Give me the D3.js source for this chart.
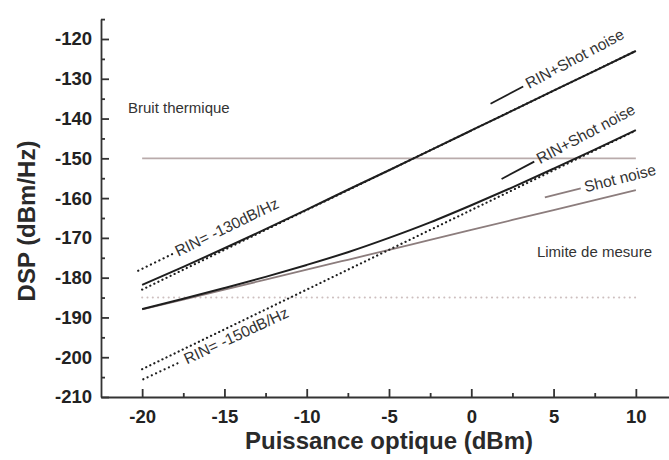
<!DOCTYPE html>
<html>
<head>
<meta charset="utf-8">
<script src="https://cdn.jsdelivr.net/npm/d3@7"></script>
<style>
  body { margin: 0; background: #fff; }
  svg { display: block; font-family: "Liberation Sans", Arial, Helvetica, sans-serif; }
</style>
</head>
<body>
<div id="chart"></div>
<script>
// data (dBm -> dBm/Hz)
const power = [-20, -17.5, -15, -12.5, -10, -7.5, -5, -2.5, 0, 2.5, 5, 7.5, 10];
const rin130 = [-183, -178, -173, -168, -163, -158, -153, -148, -143, -138, -133, -128, -123];
const rin150 = [-203, -198, -193, -188, -183, -178, -173, -168, -163, -158, -153, -148, -143];
const shotNoise = [-188, -185.5, -183, -180.5, -178, -175.5, -173, -170.5, -168, -165.5, -163, -160.5, -158];
const total130 = [-181.8, -177.3, -172.6, -167.8, -162.9, -157.9, -153.0, -148.0, -143.0, -138.0, -133.0, -128.0, -123.0];
const total150 = [-187.9, -185.3, -182.6, -179.8, -176.8, -173.6, -170.0, -166.1, -161.8, -157.3, -152.6, -147.8, -142.9];
const thermalLevel = [-150];
const limitLevel = [-185];
const xTicks = [-20, -15, -10, -5, 0, 5, 10];
const yTicks = [-210, -200, -190, -180, -170, -160, -150, -140, -130, -120];

let width = 669, height = 460;

let svg = d3.select('#chart')
    .append('svg')
    .attr('width', width)
    .attr('height', height);

let x = d3.scaleLinear().domain([-22.5, 12.5]).range([101, 677]);
let y = d3.scaleLinear().domain([-210, -115]).range([397, 19.1]);

let line = d3.line()
    .x(d => x(d[0]))
    .y(d => y(d[1]))
    .curve(d3.curveMonotoneX);

function pairs(vals) {
    return power.map((p, i) => [p, vals[i]]);
}

// horizontal levels
svg.append('line')
    .attr('x1', x(-20)).attr('x2', x(10))
    .attr('y1', y(thermalLevel[0])).attr('y2', y(thermalLevel[0]))
    .attr('stroke', '#b9abab').attr('stroke-width', 1.6);

svg.append('line')
    .attr('x1', x(-20)).attr('x2', x(10))
    .attr('y1', y(limitLevel[0])).attr('y2', y(limitLevel[0]))
    .attr('stroke', '#cdbfbf').attr('stroke-width', 2)
    .attr('stroke-linecap', 'round')
    .attr('stroke-dasharray', '0.1,5.2');

// shot noise
svg.append('path')
    .attr('d', line(pairs(shotNoise)))
    .attr('fill', 'none').attr('stroke', '#8c7d7d').attr('stroke-width', 1.8);

// RIN lines (dotted)
[rin130, rin150].forEach(vals => {
    svg.append('path')
        .attr('d', line(pairs(vals)))
        .attr('fill', 'none').attr('stroke', '#1e1e1e').attr('stroke-width', 2.2)
        .attr('stroke-linecap', 'round')
        .attr('stroke-dasharray', '0.1,4.4');
});

// RIN + shot noise totals
[total130, total150].forEach(vals => {
    svg.append('path')
        .attr('d', line(pairs(vals)))
        .attr('fill', 'none').attr('stroke', '#1e1e1e').attr('stroke-width', 2);
});

// annotations: short line sample + rotated label
let notes = [
    {p: 1.17, v: -136.3, angle: -28, len: 37, text: 'RIN+Shot noise', color: '#1e1e1e', dotted: false},
    {p: 1.84, v: -155.2, angle: -28, len: 37, text: 'RIN+Shot noise', color: '#1e1e1e', dotted: false},
    {p: 4.47, v: -159.8, angle: -14, len: 37, text: 'Shot noise', color: '#8c7d7d', dotted: false},
    {p: -20.24, v: -178.25, angle: -26, len: 38, text: 'RIN= -130dB/Hz', color: '#1e1e1e', dotted: true},
    {p: -19.93, v: -205.55, angle: -25, len: 42, text: 'RIN= -150dB/Hz', color: '#1e1e1e', dotted: true}
];

notes.forEach(n => {
    let g = svg.append('g')
        .attr('transform', 'translate(' + x(n.p) + ',' + y(n.v) + ') rotate(' + n.angle + ')');
    let l = g.append('line')
        .attr('x1', 0).attr('x2', n.len)
        .attr('y1', 0).attr('y2', 0)
        .attr('stroke', n.color);
    if (n.dotted) {
        l.attr('stroke-width', 2.2).attr('stroke-linecap', 'round').attr('stroke-dasharray', '0.1,4.6');
    } else {
        l.attr('stroke-width', 1.8);
    }
    g.append('text')
        .attr('x', n.len + 4)
        .attr('y', 5)
        .attr('font-size', '15.5px')
        .attr('fill', '#333')
        .text(n.text);
});

svg.append('text')
    .attr('x', x(-20.86)).attr('y', y(-138.6))
    .attr('font-size', '15px').attr('fill', '#333')
    .text('Bruit thermique');

svg.append('text')
    .attr('x', x(3.99)).attr('y', y(-174.8))
    .attr('font-size', '15px').attr('fill', '#333')
    .text('Limite de mesure');

// axes
let axisColor = '#333';
let fmt = d => String(d);

svg.append('g')
    .attr('transform', 'translate(' + x(-22.5) + ',0)')
    .call(d3.axisLeft(y).tickValues(yTicks).tickSizeInner(-8).tickSizeOuter(0).tickPadding(9).tickFormat(fmt));

svg.append('g')
    .attr('transform', 'translate(' + x(-22.5) + ',0)')
    .call(d3.axisLeft(y).tickValues(d3.range(-205, -114, 10)).tickSize(-4).tickFormat(''))
    .select('.domain').remove();

svg.append('g')
    .attr('transform', 'translate(0,' + y(-210) + ')')
    .call(d3.axisBottom(x).tickValues(xTicks).tickSizeInner(-8).tickSizeOuter(0).tickPadding(13).tickFormat(fmt));

svg.append('g')
    .attr('transform', 'translate(0,' + y(-210) + ')')
    .call(d3.axisBottom(x).tickValues([-17.5, -12.5, -7.5, -2.5, 2.5, 7.5]).tickSize(-4).tickFormat(''))
    .select('.domain').remove();

svg.selectAll('.domain, .tick line').attr('stroke', axisColor).attr('stroke-width', 1.8);
svg.selectAll('.tick text')
    .attr('font-family', '"Liberation Sans", Arial, Helvetica, sans-serif')
    .attr('font-size', '18.5px')
    .attr('font-weight', 'bold')
    .attr('fill', '#222');

// axis titles
svg.append('text')
    .attr('x', (x(-20) + x(10)) / 2)
    .attr('y', 449)
    .attr('text-anchor', 'middle')
    .attr('font-size', '24px')
    .attr('font-weight', 'bold')
    .attr('fill', '#2a2a2a')
    .text('Puissance optique (dBm)');

svg.append('text')
    .attr('transform', 'translate(35,' + 221 + ') rotate(-90)')
    .attr('text-anchor', 'middle')
    .attr('font-size', '24px')
    .attr('font-weight', 'bold')
    .attr('fill', '#2a2a2a')
    .text('DSP (dBm/Hz)');
</script>
</body>
</html>
